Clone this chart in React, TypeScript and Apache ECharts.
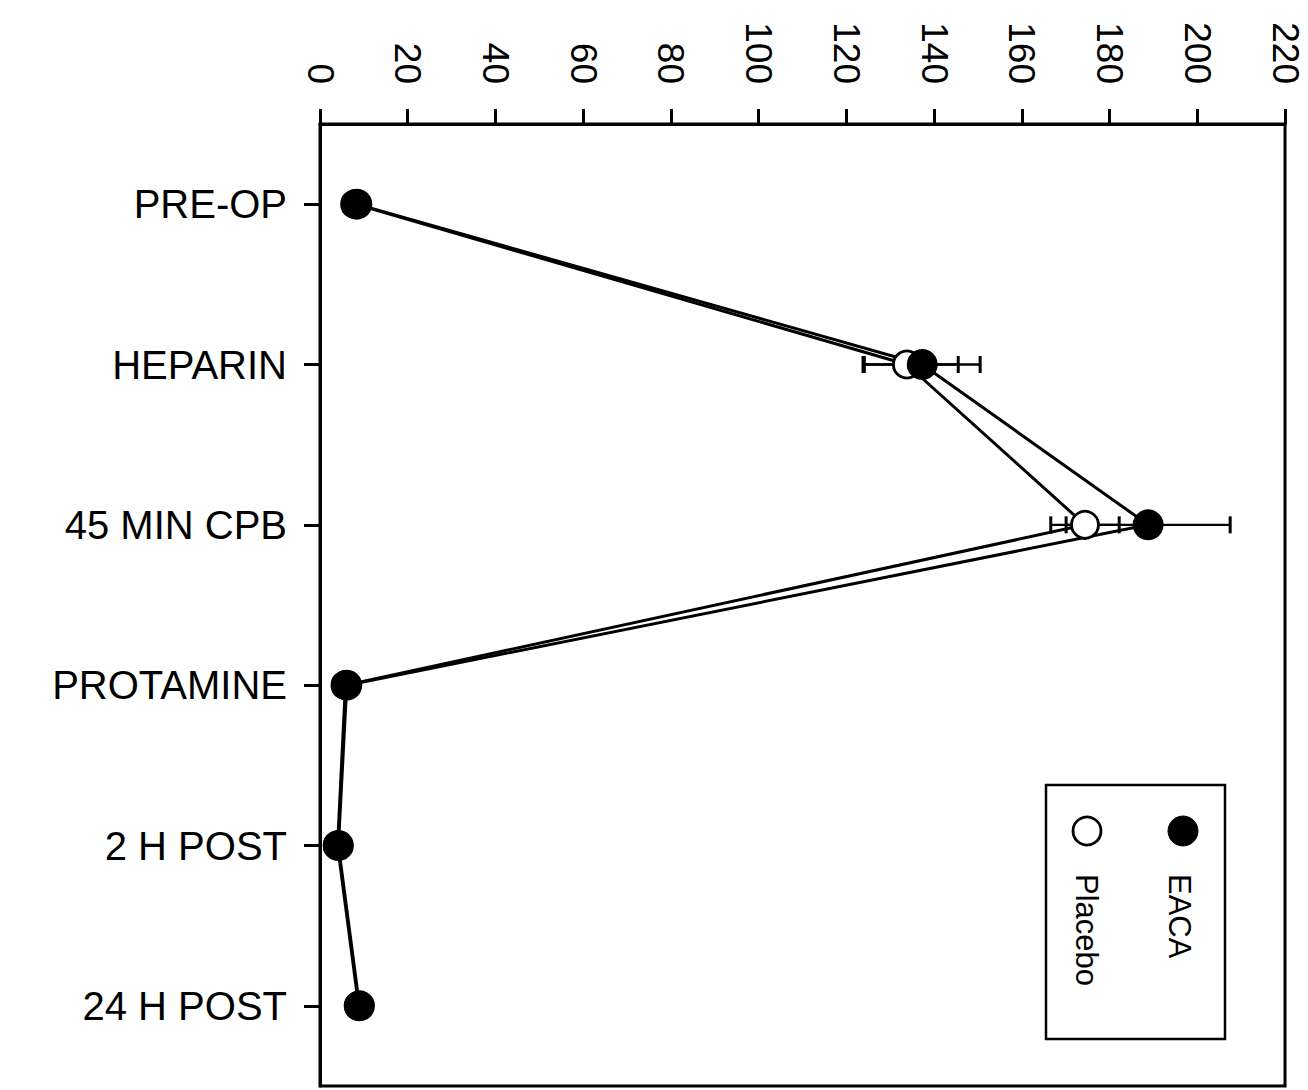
import React, { useEffect, useRef } from "react";
import * as echarts from "echarts";

const categories = ["PRE-OP", "HEPARIN", "45 MIN CPB", "PROTAMINE", "2 H POST", "24 H POST"];
const eacaValues = [8.4, 137.3, 188.8, 6.1, 4.2, 9.0];
const placeboValues = [8.0, 133.8, 174.4, 5.8, 4.0, 8.8];
const eacaErrLow = [0, 13.2, 18.7, 0, 0, 0];
const eacaErrHigh = [0, 13.2, 18.7, 0, 0, 0];
const placeboErrLow = [0, 10.0, 7.8, 0, 0, 0];
const placeboErrHigh = [0, 11.7, 7.8, 0, 0, 0];
const valueTicks = { min: 0, max: 220, interval: 20 };
const legendNames = ["EACA", "Placebo"];

const FONT = "'Liberation Sans', Arial, sans-serif";

function errorSeries(values: number[], low: number[], high: number[], z: number) {
  const data = values
    .map((v, i) => [i, v - low[i], v + high[i], low[i] + high[i]])
    .filter((d) => d[3] > 0);
  return {
    type: "custom",
    z,
    silent: true,
    data,
    renderItem: (params: any, api: any) => {
      const idx = api.value(0);
      const lo = api.coord([api.value(1), idx]);
      const hi = api.coord([api.value(2), idx]);
      const h = 8.5;
      return {
        type: "group",
        children: [
          { type: "line", shape: { x1: lo[0], y1: lo[1], x2: hi[0], y2: hi[1] }, style: { stroke: "#000", lineWidth: 2.4 } },
          { type: "line", shape: { x1: lo[0], y1: lo[1] - h, x2: lo[0], y2: lo[1] + h }, style: { stroke: "#000", lineWidth: 3 } },
          { type: "line", shape: { x1: hi[0], y1: hi[1] - h, x2: hi[0], y2: hi[1] + h }, style: { stroke: "#000", lineWidth: 3 } },
        ],
      };
    },
  };
}

export default function App() {
  const ref = useRef<HTMLDivElement>(null);
  useEffect(() => {
    document.body.style.margin = "0";
    const chart = echarts.init(ref.current!, null, { renderer: "svg" });
    chart.setOption({
      animation: false,
      backgroundColor: "#fff",
      grid: {
        left: 320,
        top: 124,
        width: 965,
        height: 962,
        show: true,
        borderColor: "#000",
        borderWidth: 3,
        backgroundColor: "transparent",
      },
      xAxis: {
        type: "value",
        position: "top",
        min: valueTicks.min,
        max: valueTicks.max,
        interval: valueTicks.interval,
        splitLine: { show: false },
        axisLine: { show: true, lineStyle: { color: "#000", width: 3 } },
        axisTick: { show: true, inside: false, length: 15, lineStyle: { color: "#000", width: 3 } },
        axisLabel: {
          rotate: 90,
          margin: 40,
          color: "#000",
          fontSize: 37,
          fontFamily: FONT,
        },
      },
      yAxis: {
        type: "category",
        data: categories,
        inverse: true,
        boundaryGap: true,
        axisLine: { show: true, lineStyle: { color: "#000", width: 3 } },
        axisTick: { show: true, alignWithLabel: true, inside: false, length: 16, lineStyle: { color: "#000", width: 3 } },
        axisLabel: { margin: 33, color: "#000", fontSize: 40, fontFamily: FONT },
        splitLine: { show: false },
      },
      series: [
        {
          name: "EACA line",
          type: "line",
          data: eacaValues,
          symbol: "none",
          z: 1,
          lineStyle: { color: "#000", width: 3 },
        },
        {
          name: "Placebo line",
          type: "line",
          data: placeboValues,
          symbol: "none",
          z: 1,
          lineStyle: { color: "#000", width: 3 },
        },
        errorSeries(placeboValues, placeboErrLow, placeboErrHigh, 2),
        errorSeries(eacaValues, eacaErrLow, eacaErrHigh, 2),
        {
          name: legendNames[1],
          type: "scatter",
          data: placeboValues,
          symbol: "circle",
          symbolSize: 27,
          z: 3,
          itemStyle: { color: "#fff", borderColor: "#000", borderWidth: 2.8, opacity: 1 },
        },
        {
          name: legendNames[0],
          type: "scatter",
          data: eacaValues,
          symbol: "circle",
          symbolSize: 31,
          z: 4,
          itemStyle: { color: "#000", borderColor: "#000", borderWidth: 0, opacity: 1 },
        },
      ],
      graphic: [
        {
          type: "rect",
          shape: { x: 1046, y: 785, width: 179, height: 254 },
          style: { fill: "#fff", stroke: "#000", lineWidth: 2.5 },
          z: 10,
        },
        {
          type: "circle",
          shape: { cx: 1183, cy: 831, r: 15 },
          style: { fill: "#000", stroke: "#000", lineWidth: 1 },
          z: 11,
        },
        {
          type: "circle",
          shape: { cx: 1087, cy: 831, r: 14 },
          style: { fill: "#fff", stroke: "#000", lineWidth: 2.8 },
          z: 11,
        },
        {
          type: "text",
          x: 1179,
          y: 874,
          rotation: -Math.PI / 2,
          z: 11,
          style: {
            text: legendNames[0],
            fill: "#000",
            fontSize: 31,
            fontFamily: FONT,
            align: "left",
            verticalAlign: "middle",
          },
        },
        {
          type: "text",
          x: 1086,
          y: 874,
          rotation: -Math.PI / 2,
          z: 11,
          style: {
            text: legendNames[1],
            fill: "#000",
            fontSize: 31,
            fontFamily: FONT,
            align: "left",
            verticalAlign: "middle",
          },
        },
      ],
    });
    return () => chart.dispose();
  }, []);
  return <div ref={ref} style={{ width: 1308, height: 1090 }} />;
}
